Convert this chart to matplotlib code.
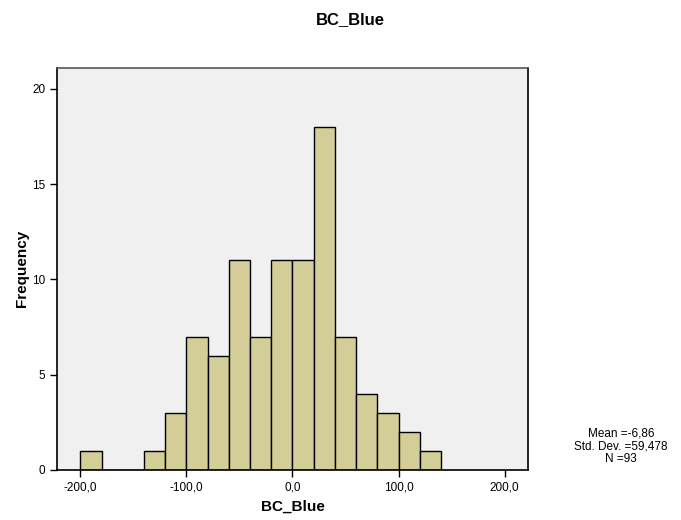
import numpy as np
import matplotlib.pyplot as plt

# Histogram bins (width 20) and counts for BC_Blue
bin_edges = np.arange(-200, 141, 20)
counts = [1, 0, 0, 1, 3, 7, 6, 11, 7, 11, 11, 18, 7, 4, 3, 2, 1]
x_ticks = [-200, -100, 0, 100, 200]
x_tick_labels = ['-200,0', '-100,0', '0,0', '100,0', '200,0']
y_ticks = [0, 5, 10, 15, 20]
stats_text = 'Mean =-6,86\nStd. Dev. =59,478\nN =93'

plt.rcParams['font.family'] = 'Liberation Sans'

fig = plt.figure(figsize=(6.81, 5.2), dpi=100)
ax = fig.add_axes([0.0837, 0.0962, 0.6916, 0.7736])
ax.set_facecolor('#f0f0f0')

ax.bar(bin_edges[:-1], counts, width=np.diff(bin_edges), align='edge',
       color='#d3ce97', edgecolor='black', linewidth=1.0)

ax.set_xlim(-222, 222)
ax.set_ylim(0, 21.1)
ax.set_xticks(x_ticks)
ax.set_xticklabels(x_tick_labels)
ax.set_yticks(y_ticks)
ax.tick_params(direction='out', length=5, width=1, labelsize=8.5, colors='black')
ax.tick_params(top=False, right=False)
for s in ax.spines.values():
    s.set_linewidth(1.2)
    s.set_color('black')
ax.spines['top'].set_color('#555555')

ax.set_xlabel('BC_Blue', fontsize=11, fontweight='bold', labelpad=4)
ax.set_ylabel('Frequency', fontsize=11, fontweight='bold', labelpad=2)
fig.text(0.515, 0.962, 'BC_Blue', ha='center', va='center', fontsize=12, fontweight='bold')

fig.text(0.912, 0.142, stats_text, ha='center', va='center', fontsize=8.5,
         linespacing=1.05)

fig.savefig('out.png', dpi=100)
